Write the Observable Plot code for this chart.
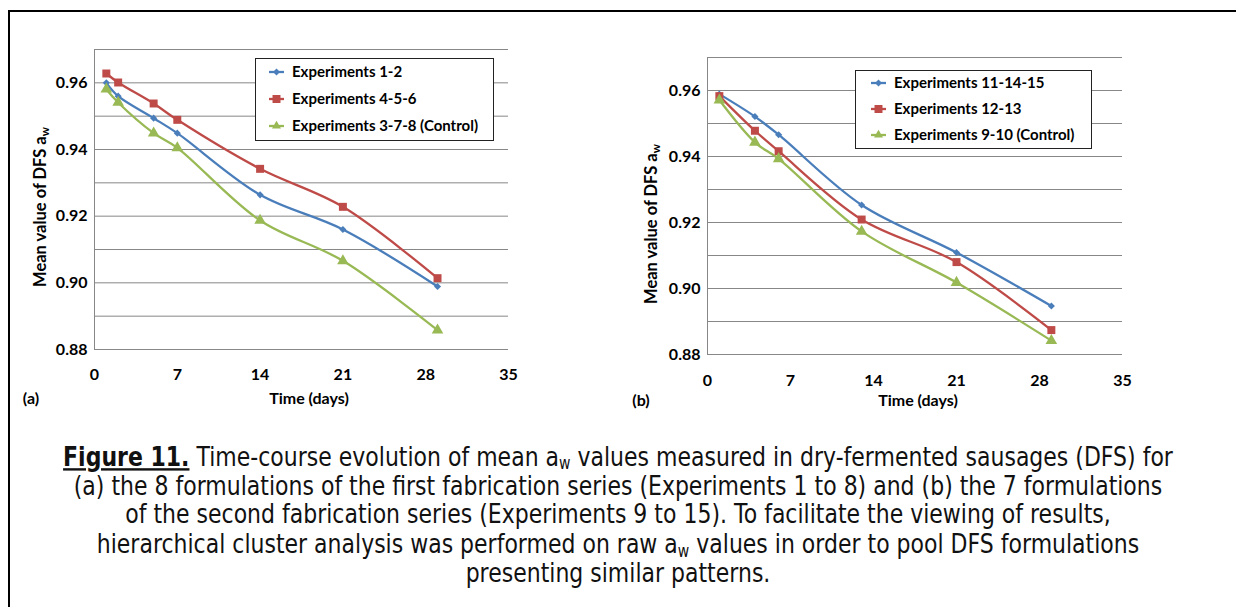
<!DOCTYPE html>
<html><head><meta charset="utf-8">
<script src="https://cdn.jsdelivr.net/npm/d3@7"></script>
<script src="https://cdn.jsdelivr.net/npm/@observablehq/plot@0.6"></script>
<style>
body{margin:0;background:#fff;width:1236px;height:607px;overflow:hidden;position:relative;font-family:Lato,sans-serif;}
#frame{position:absolute;left:8px;top:10px;width:1240px;height:620px;border-top:2px solid #000;border-left:2px solid #000;}
.panel{position:absolute;top:0;}
.legend{position:absolute;border:1px solid #222;background:#fff;}
.legend .row{position:absolute;left:0;height:20px;white-space:nowrap;font:bold 15px Lato,sans-serif;color:#000;}
.legend svg{position:absolute;top:0;}
.legend span{position:absolute;top:0px;}
#caption{position:absolute;left:0;width:1236px;top:443px;text-align:center;font:22px "DejaVu Sans",sans-serif;line-height:24.2px;color:#111;white-space:nowrap;transform:scaleY(1.2);transform-origin:0 0;}
#caption b{text-decoration:underline;}
#caption sub{font-size:14px;vertical-align:-3px;line-height:0;}
</style>
</head><body>
<div id="frame"></div>
<div id="p1" class="panel" style="left:0"></div>
<div id="p2" class="panel" style="left:618px"></div>
<div id="caption"><b>Figure 11.</b> Time-course evolution of mean a<sub>w</sub> values measured in dry-fermented sausages (DFS) for<br>(a) the 8 formulations of the first fabrication series (Experiments 1 to 8) and (b) the 7 formulations<br>of the second fabrication series (Experiments 9 to 15). To facilitate the viewing of results,<br>hierarchical cluster analysis was performed on raw a<sub>w</sub> values in order to pool DFS formulations<br>presenting similar patterns.</div>
<script>
// ---- data ----
const xTicks = [0, 7, 14, 21, 28, 35];
const yTicks = [0.88, 0.90, 0.92, 0.94, 0.96];
const yGrid = [0.88, 0.89, 0.90, 0.91, 0.92, 0.93, 0.94, 0.95, 0.96, 0.97];

const daysA = [1, 2, 5, 7, 14, 21, 29];
const expA_1_2 = [0.960, 0.956, 0.9494, 0.9449, 0.9264, 0.9160, 0.8989];
const expA_4_5_6 = [0.9628, 0.9601, 0.9538, 0.9489, 0.9342, 0.9228, 0.9014];
const expA_3_7_8 = [0.9581, 0.9541, 0.9449, 0.9405, 0.9187, 0.9066, 0.8858];
const namesA = ["Experiments 1-2", "Experiments 4-5-6", "Experiments 3-7-8 (Control)"];

const daysB = [1, 4, 6, 13, 21, 29];
const expB_11_14_15 = [0.9589, 0.9521, 0.9466, 0.9253, 0.9109, 0.8947];
const expB_12_13 = [0.9583, 0.9478, 0.9416, 0.9209, 0.9080, 0.8874];
const expB_9_10 = [0.9571, 0.9443, 0.9393, 0.9173, 0.9018, 0.8842];
const namesB = ["Experiments 11-14-15", "Experiments 12-13", "Experiments 9-10 (Control)"];

const colors = ["#4A7EBB", "#BE4B48", "#98B954"];
const symbols = ["diamond2", "square", "triangle"];
const radii = [3.2, 4.5, 4.3];

function rows(days, seriesList, names) {
  const out = [];
  seriesList.forEach((vals, i) => vals.forEach((v, j) => out.push({day: days[j], aw: v, s: names[i], i})));
  return out;
}

function panel(el, days, seriesList, names, o) {
  const data = rows(days, seriesList, names);
  const marks = [
    Plot.ruleY(yGrid, {stroke: "#878787", strokeWidth: 1}),
    Plot.ruleX([0], {stroke: "#878787", strokeWidth: 1}),
    Plot.axisY({ticks: yTicks, tickSize: 0, tickPadding: 7, tickFormat: d3.format(".2f"), label: null, fontWeight: "bold", fontSize: 16}),
    Plot.axisX({ticks: xTicks, tickSize: 0, tickPadding: o.xPad, label: null, fontWeight: "bold", fontSize: 16})
  ];
  names.forEach((n, i) => {
    const d = data.filter(r => r.i === i);
    marks.push(Plot.line(d, {x: "day", y: "aw", stroke: colors[i], strokeWidth: 2.3, curve: "catmull-rom"}));
  });
  names.forEach((n, i) => {
    const d = data.filter(r => r.i === i);
    marks.push(Plot.dot(d, {x: "day", y: "aw", symbol: () => symbols[i], fill: colors[i], stroke: "none", r: radii[i]}));
  });
  const svg = Plot.plot({
    width: 618, height: 415,
    marginLeft: o.ml, marginRight: o.mr, marginTop: o.mt, marginBottom: o.mb,
    x: {domain: [0, 35]},
    y: {domain: [0.88, 0.97]},
    symbol: {type: "identity"},
    style: {fontFamily: "Lato, sans-serif", fontSize: "16px", color: "#000", background: "transparent"},
    marks
  });
  const s = d3.select(svg);
  const t = s.append("text").attr("transform", `translate(${o.ylx},${o.yly}) rotate(-90)`)
    .attr("text-anchor", "middle").attr("font-weight", "bold").attr("font-size", 16.5).attr("fill", "#000");
  t.append("tspan").text("Mean value of DFS a");
  t.append("tspan").attr("font-size", 11.5).attr("dy", 3).text("w");
  s.append("text").attr("x", o.tx).attr("y", o.ty).attr("text-anchor", "middle").attr("font-weight", "bold").attr("font-size", 16).attr("fill", "#000").text("Time (days)");
  s.append("text").attr("x", o.px).attr("y", o.ty).attr("font-weight", "bold").attr("font-size", 16).attr("fill", "#000").text(o.panel);
  el.appendChild(svg);

  // legend
  const lg = document.createElement("div");
  lg.className = "legend";
  Object.assign(lg.style, {left: o.lg.x + "px", top: o.lg.y + "px", width: o.lg.w + "px", height: o.lg.h + "px"});
  names.forEach((n, i) => {
    const row = document.createElement("div");
    row.className = "row";
    row.style.top = (o.lg.r0 + i * o.lg.dr - 10) + "px";
    row.style.width = o.lg.w + "px";
    const sw = d3.create("svg").attr("width", 30).attr("height", 20).style("left", (o.lg.sx - 4) + "px");
    sw.append("line").attr("x1", 4).attr("x2", 19).attr("y1", 10).attr("y2", 10).attr("stroke", colors[i]).attr("stroke-width", 2.3);
    const symType = [d3.symbolDiamond2, d3.symbolSquare, d3.symbolTriangle2][i];
    sw.append("path").attr("transform", "translate(11.5,10)").attr("d", d3.symbol(symType, Math.PI * radii[i] * radii[i])()).attr("fill", colors[i]);
    row.appendChild(sw.node());
    const sp = document.createElement("span");
    sp.style.left = o.lg.tx + "px";
    sp.textContent = n;
    row.appendChild(sp);
    lg.appendChild(row);
  });
  el.appendChild(lg);
}

panel(document.getElementById("p1"), daysA, [expA_1_2, expA_4_5_6, expA_3_7_8], namesA,
  {ml: 94, mr: 110, mt: 49, mb: 66, xPad: 19, ylx: 46, yly: 207, tx: 309, ty: 404, px: 31, panel: "(a)",
   lg: {x: 255, y: 58, w: 237, h: 81, r0: 13, dr: 27, sx: 13, tx: 36}});
panel(document.getElementById("p2"), daysB, [expB_11_14_15, expB_12_13, expB_9_10], namesB,
  {ml: 89, mr: 114, mt: 57, mb: 61, xPad: 20, ylx: 39, yly: 224, tx: 300, ty: 406, px: 23, panel: "(b)",
   lg: {x: 237, y: 70, w: 235, h: 77, r0: 12, dr: 26, sx: 15, tx: 38}});
</script>
</body></html>
